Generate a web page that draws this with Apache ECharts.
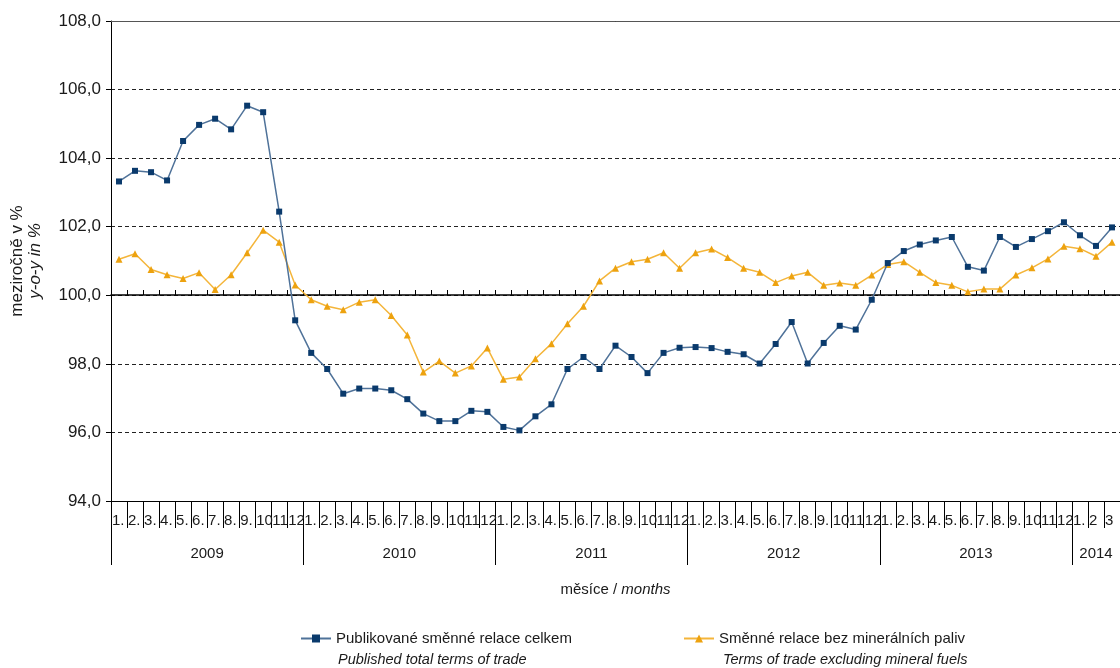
<!DOCTYPE html>
<html>
<head>
<meta charset="utf-8">
<script src="https://cdn.jsdelivr.net/npm/echarts@6/dist/echarts.min.js"></script>
<style>
html,body{margin:0;padding:0;background:#fff;}
#c{width:1120px;height:668px;}
</style>
</head>
<body>
<div id="c"></div>
<script>
// ---- data ----
const years = ['2009', '2010', '2011', '2012', '2013', '2014'];
const monthsPerYear = [12, 12, 12, 12, 12, 3];
const monthLabelsFull = ['1.', '2.', '3.', '4.', '5.', '6.', '7.', '8.', '9.', '10', '11', '12'];
const monthLabels2014 = ['1.', '2', '3'];
const yTicks = [94, 96, 98, 100, 102, 104, 106, 108];

const seriesTotalName = 'Publikované směnné relace celkem';
const seriesTotalNameEn = 'Published total terms of trade';
const seriesExFuelName = 'Směnné relace bez minerálních paliv';
const seriesExFuelNameEn = 'Terms of trade excluding mineral fuels';

const totalTerms = [
  103.32, 103.63, 103.59, 103.35, 104.50, 104.97, 105.15, 104.84, 105.53, 105.34, 102.44, 99.27,
  98.32, 97.85, 97.13, 97.28, 97.28, 97.23, 96.97, 96.55, 96.33, 96.33, 96.63, 96.60,
  96.16, 96.06, 96.47, 96.82, 97.85, 98.20, 97.85, 98.53, 98.20, 97.73, 98.32, 98.47,
  98.49, 98.46, 98.35, 98.28, 98.01, 98.58, 99.22, 98.01, 98.61, 99.11, 99.00, 99.87,
  100.94, 101.29, 101.48, 101.60, 101.70, 100.83, 100.72, 101.70, 101.41, 101.64, 101.87, 102.13,
  101.75, 101.44, 101.98
];
const exFuelTerms = [
  101.05, 101.21, 100.75, 100.60, 100.49, 100.66, 100.17, 100.60, 101.24, 101.90, 101.55, 100.30,
  99.87, 99.68, 99.58, 99.80, 99.87, 99.41, 98.84, 97.76, 98.08, 97.73, 97.94, 98.46,
  97.55, 97.62, 98.15, 98.59, 99.17, 99.68, 100.42, 100.79, 100.98, 101.05, 101.24, 100.79,
  101.24, 101.35, 101.10, 100.79, 100.67, 100.37, 100.56, 100.67, 100.29, 100.36, 100.29, 100.59,
  100.90, 100.98, 100.67, 100.37, 100.29, 100.10, 100.18, 100.18, 100.59, 100.80, 101.06, 101.43,
  101.36, 101.14, 101.55
];

// ---- derived ----
const categories = [];
const yearStarts = [];
const yearCenters = [];
let acc = 0;
years.forEach((y, i) => {
  const n = monthsPerYear[i];
  yearStarts.push(acc);
  yearCenters.push(acc + n / 2);
  const labs = n === 12 ? monthLabelsFull : monthLabels2014;
  for (let k = 0; k < n; k++) categories.push(labs[k]);
  acc += n;
});
const totalMonths = acc;

const FONT = '"Liberation Sans", Arial, sans-serif';
const TXT = '#1a1a1a';

const chart = echarts.init(document.getElementById('c'), null, {renderer: 'canvas'});
const option = {
  animation: false,
  backgroundColor: '#ffffff',
  textStyle: {fontFamily: FONT},
  grid: [
    {left: 111, right: -4, top: 21, bottom: 167, containLabel: false},
    {left: 111, right: -4, top: 21, height: 274, containLabel: false}
  ],
  legend: [
    {
      left: 295, top: 626, itemWidth: 30, itemHeight: 10, itemGap: 0,
      textStyle: {fontFamily: FONT, fontSize: 15, color: TXT},
      data: [seriesTotalName]
    },
    {
      left: 678, top: 626, itemWidth: 30, itemHeight: 10, itemGap: 0,
      textStyle: {fontFamily: FONT, fontSize: 15, color: TXT},
      data: [seriesExFuelName]
    }
  ],
  graphic: [
    {type: 'text', left: 338, top: 652, style: {text: seriesTotalNameEn, font: 'italic 14.5px ' + FONT, fill: TXT}},
    {type: 'text', left: 723, top: 652, style: {text: seriesExFuelNameEn, font: 'italic 14.5px ' + FONT, fill: TXT}}
  ],
  xAxis: [
    {
      type: 'category', gridIndex: 0, position: 'bottom', data: categories, boundaryGap: true,
      axisLine: {show: true, lineStyle: {color: '#000', width: 1}},
      axisTick: {show: true, interval: 0, length: 27, lineStyle: {color: '#000'}},
      axisLabel: {
        interval: 0, margin: 12, fontSize: 15, color: TXT, fontFamily: FONT,
        formatter: v => '{m|' + v + '}',
        rich: {m: {width: 14, align: 'left', fontSize: 15, color: TXT, fontFamily: FONT}}
      },
      splitLine: {show: false}
    },
    {
      type: 'value', gridIndex: 0, position: 'bottom', min: 0, max: totalMonths,
      axisLine: {show: false},
      axisTick: {show: true, customValues: yearStarts, length: 64, lineStyle: {color: '#000'}},
      axisLabel: {
        show: true, customValues: yearCenters, margin: 45, fontSize: 15, color: TXT, fontFamily: FONT,
        formatter: v => { const i = yearCenters.indexOf(v); return i >= 0 ? years[i] : ''; }
      },
      splitLine: {show: false},
      name: '{a|měsíce / }{b|months}', nameLocation: 'middle', nameGap: 81,
      nameTextStyle: {
        rich: {
          a: {fontSize: 15, color: TXT, fontFamily: FONT},
          b: {fontSize: 15, color: TXT, fontFamily: FONT, fontStyle: 'italic'}
        }
      }
    },
    {
      type: 'category', gridIndex: 0, position: 'top', data: categories,
      axisLine: {show: true, lineStyle: {color: '#555', width: 1}},
      axisTick: {show: false}, axisLabel: {show: false}, splitLine: {show: false}
    },
    {
      type: 'category', gridIndex: 1, position: 'bottom', data: categories, boundaryGap: true,
      axisLine: {show: true, lineStyle: {color: '#000', width: 1.5}},
      axisTick: {show: true, inside: true, interval: 0, length: 5, lineStyle: {color: '#000'}},
      axisLabel: {show: false}, splitLine: {show: false}
    }
  ],
  yAxis: [
    {
      type: 'value', gridIndex: 0, min: yTicks[0], max: yTicks[yTicks.length - 1], interval: 2,
      axisLine: {show: true, lineStyle: {color: '#000', width: 1}},
      axisTick: {show: true, length: 5, lineStyle: {color: '#000'}},
      axisLabel: {
        margin: 10, fontSize: 17, color: TXT, fontFamily: FONT,
        formatter: v => v.toFixed(1).replace('.', ',')
      },
      splitLine: {show: true, lineStyle: {color: '#222', type: [4, 3], width: 1}},
      name: '{a|meziročně v %}\n{b|y-o-y in %}', nameLocation: 'middle', nameRotate: 90, nameGap: 67,
      nameTextStyle: {
        rich: {
          a: {fontSize: 17, color: TXT, fontFamily: FONT, lineHeight: 18},
          b: {fontSize: 17, color: TXT, fontFamily: FONT, fontStyle: 'italic', lineHeight: 18}
        }
      }
    },
    {type: 'value', gridIndex: 1, show: false, min: 0, max: 1}
  ],
  series: [
    {
      name: seriesTotalName, type: 'line', xAxisIndex: 0, yAxisIndex: 0, data: totalTerms,
      symbol: 'rect', symbolSize: 6, showAllSymbol: true,
      itemStyle: {color: '#0a3a6c'},
      lineStyle: {color: '#4f7299', width: 1.5},
      z: 4
    },
    {
      name: seriesExFuelName, type: 'line', xAxisIndex: 0, yAxisIndex: 0, data: exFuelTerms,
      symbol: 'triangle', symbolSize: 7, showAllSymbol: true,
      itemStyle: {color: '#eda20f'},
      lineStyle: {color: '#f4b53a', width: 1.5},
      z: 3
    }
  ]
};
chart.setOption(option);
</script>
</body>
</html>
